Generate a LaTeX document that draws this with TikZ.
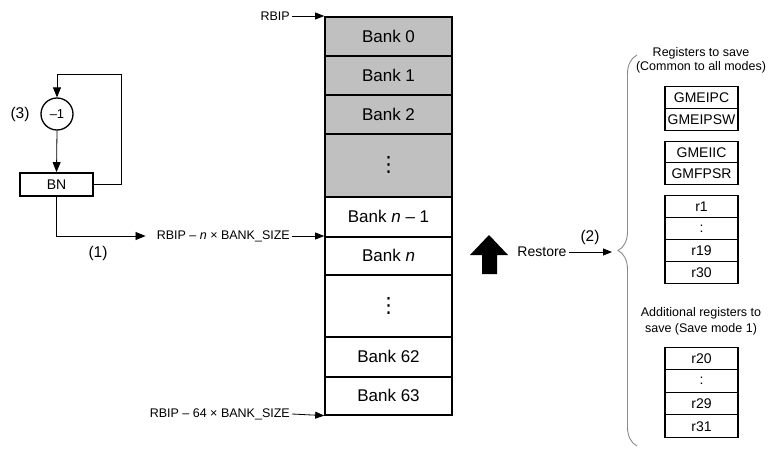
\documentclass[tikz,border=0pt]{standalone}
\usepackage{fontspec}
\setmainfont{Liberation Sans}
\newfontfamily\dejavu{DejaVu Sans}
\usetikzlibrary{arrows.meta,decorations.pathreplacing,calc}
\definecolor{bankgray}{HTML}{C0C0C0}
\definecolor{bracegray}{HTML}{8A8A8A}
\newcommand\myvdots{{\dejavu\fontsize{21}{24}\selectfont ⋮}}
\begin{document}
\begin{tikzpicture}[x=1pt,y=-1pt,
  bank/.style={draw,line width=1.6pt,minimum width=127pt,inner sep=0pt,anchor=north,font=\fontsize{17}{20}\selectfont},
  grayb/.style={bank,fill=bankgray},
  reg/.style={draw,line width=1.4pt,minimum width=73pt,minimum height=22pt,inner sep=0pt,anchor=north,font=\fontsize{14}{16}\selectfont},
  small/.style={font=\fontsize{12.5}{14}\selectfont,inner sep=2pt},
  lbl/.style={font=\fontsize{15.5}{18}\selectfont,inner sep=0pt},
  arr/.style={line width=0.8pt,-{Triangle[length=10pt,width=8pt]}},
  sarr/.style={line width=0.8pt,-{Triangle[length=9pt,width=7pt]}},
  brc/.style={draw=bracegray,line width=0.9pt,decorate,decoration={brace,amplitude=19pt}}
]
\useasboundingbox (0,0) rectangle (778,452);

% memory banks
\node[grayb,minimum height=39pt] (b0) at (388.5,16) {Bank 0};
\node[grayb,minimum height=39pt] (b1) at (388.5,55) {Bank 1};
\node[grayb,minimum height=39pt] (b2) at (388.5,94) {Bank 2};
\node[grayb,minimum height=63pt] (bd1) at (388.5,133) {\myvdots};
\node[bank,minimum height=40pt] (bnm) at (388.5,196) {Bank \textit{n} \textendash{} 1};
\node[bank,minimum height=38pt] (bn) at (388.5,236) {Bank \textit{n}};
\node[bank,minimum height=62pt] (bd2) at (388.5,274) {\myvdots};
\node[bank,minimum height=40pt] (b62) at (388.5,336) {Bank 62};
\node[bank,minimum height=38pt] (b63) at (388.5,376) {Bank 63};

% pointer labels
\node[small,anchor=east] (lr) at (292,16) {RBIP};
\node[small,anchor=east] (ln) at (292,236) {RBIP \textendash{} \textit{n} × BANK\_SIZE};
\node[small,anchor=east] (l64) at (292,414) {RBIP \textendash{} 64 × BANK\_SIZE};
\draw[sarr] (lr.east) -- (b0.north west);
\draw[sarr] (ln.east) -- (bn.north west);
\draw[sarr] (l64.east) -- (b63.south west);

% left counter
\node[draw,circle,line width=1.3pt,minimum size=32pt,inner sep=0pt,font=\fontsize{13}{15}\selectfont] (c) at (57,114) {\textendash1};
\node[draw,line width=1.8pt,minimum width=73pt,minimum height=23pt,inner sep=0pt,font=\fontsize{14}{16}\selectfont] (bnbox) at (56.5,184.5) {BN};
\node[lbl] (l3) at (20,114) {(3)};
\node[lbl] (l1) at (98,253) {(1)};
\coordinate (lt) at (121,74);
\draw[arr] (c.south) -- (bnbox.north);
\draw[arr] (bnbox.east) -| (lt) -| (c.north);
\draw[arr] (bnbox.south) |- ([xshift=-9pt]ln.west);

% restore arrow
\fill (482,274) -- (482,255) -- (470,255) -- (489,235) -- (508,255) -- (497,255) -- (497,274) -- cycle;
\node[font=\fontsize{14}{16}\selectfont,inner sep=2pt] (rs) at (542,252) {Restore};
\coordinate (btip) at (612,252);
\draw[sarr] (rs.east) -- (btip);
\node[lbl] (l2) at (590,237) {(2)};

% brace
\draw[brc] (637,446) -- (637,55);

% registers
\node[font=\fontsize{12.5}{14}\selectfont,align=center,inner sep=0pt] (t1) at (701,60) {Registers to save\\(Common to all modes)};
\node[reg] (g1) at (701.5,86) {GMEIPC};
\node[reg] (g2) at (701.5,108) {GMEIPSW};
\node[reg,minimum height=21pt] (g3) at (701.5,141) {GMEIIC};
\node[reg] (g4) at (701.5,162) {GMFPSR};
\node[reg] (r1) at (701.5,195) {r1};
\node[reg] (rc1) at (701.5,217) {:};
\node[reg] (r19) at (701.5,239) {r19};
\node[reg] (r30) at (701.5,261) {r30};
\node[font=\fontsize{12.5}{16}\selectfont,align=center,inner sep=0pt] (t2) at (701,321) {Additional registers to\\save (Save mode 1)};
\node[reg] (r20) at (701.5,347) {r20};
\node[reg,minimum height=23pt] (rc2) at (701.5,369) {:};
\node[reg] (r29) at (701.5,392) {r29};
\node[reg,minimum height=23pt] (r31) at (701.5,414) {r31};
\end{tikzpicture}
\end{document}
